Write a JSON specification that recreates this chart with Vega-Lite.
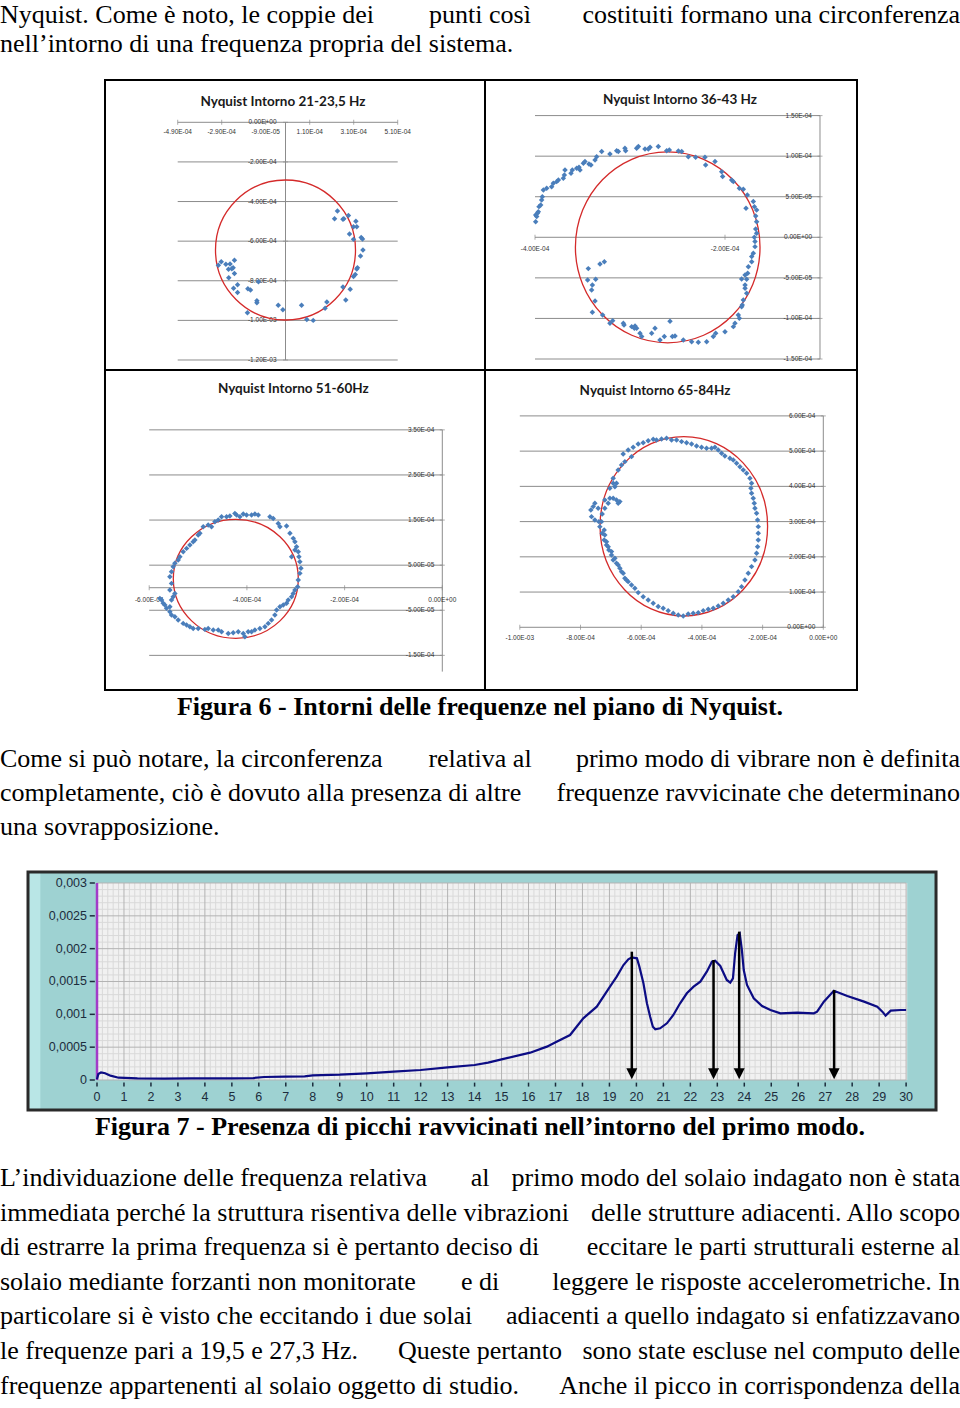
{
"$schema": "https://vega.github.io/schema/vega-lite/v6.json",
"padding": 0,
"background": "white",
"bounds": "flush",
"spacing": 0,
"config": {"axis": {"disable": true}, "view": {"stroke": null}, "concat": {"spacing": 0}},
"vconcat": [
{
 "width": 960, "height": 80,
 "data": {"values": [
  {"line": 1, "part": "a", "text": "Nyquist. Come è noto, le coppie dei"},
  {"line": 1, "part": "b", "text": "punti così"},
  {"line": 1, "part": "c", "text": "costituiti formano una circonferenza"},
  {"line": 2, "part": "a", "text": "nell’intorno di una frequenza propria del sistema."}
 ]},
 "encoding": {"y": {"field": "line", "type": "quantitative", "scale": {"domain": [0.1897, 2.9483], "reverse": true, "nice": false, "zero": false}}, "text": {"field": "text"}},
 "layer": [
  {"transform": [{"filter": "datum.part === 'a'"}], "mark": {"type": "text", "align": "left", "baseline": "alphabetic", "font": "Liberation Serif", "fontSize": 26, "color": "#000"}, "encoding": {"x": {"datum": 0, "type": "quantitative", "scale": {"domain": [0, 1], "nice": false, "zero": false}}}},
  {"transform": [{"filter": "datum.part === 'b'"}], "mark": {"type": "text", "align": "center", "baseline": "alphabetic", "font": "Liberation Serif", "fontSize": 26, "color": "#000"}, "encoding": {"x": {"datum": 0.5, "type": "quantitative"}}},
  {"transform": [{"filter": "datum.part === 'c'"}], "mark": {"type": "text", "align": "right", "baseline": "alphabetic", "font": "Liberation Serif", "fontSize": 26, "color": "#000"}, "encoding": {"x": {"datum": 1, "type": "quantitative"}}}
 ]
},
{
 "width": 960, "height": 290,
 "resolve": {"scale": {"x": "independent", "y": "independent"}},
 "layer": [
  {"layer": [
    {"data": {"values": [{"y": 0}, {"y": -0.0002}, {"y": -0.0004}, {"y": -0.0006}, {"y": -0.0008}, {"y": -0.001}, {"y": -0.0012}]},
     "mark": {"type": "rule", "color": "#8c8c8c", "strokeWidth": 1},
     "encoding": {"y": {"field": "y", "type": "quantitative", "scale": {"domain": [-0.0012505, 0.00021355], "nice": false, "zero": false}},
                  "x": {"datum": -0.00049, "type": "quantitative", "scale": {"domain": [-0.00129773, 0.00306591], "nice": false, "zero": false}},
                  "x2": {"datum": 0.00051}}},
    {"data": {"values": [{}]}, "mark": {"type": "rule", "color": "#8c8c8c", "strokeWidth": 1},
     "encoding": {"x": {"datum": 0, "type": "quantitative"}, "y": {"datum": 0, "type": "quantitative"}, "y2": {"datum": -0.0012}}},
    {"data": {"values": [{"x": -0.00049}, {"x": -0.00029}, {"x": -0.00009}, {"x": 0.00011}, {"x": 0.00031}, {"x": 0.00051}]},
     "mark": {"type": "tick", "orient": "vertical", "size": 5, "thickness": 1, "color": "#8c8c8c"},
     "encoding": {"x": {"field": "x", "type": "quantitative"}, "y": {"datum": 0, "type": "quantitative"}}},
    {"data": {"values": [{"y": 0}, {"y": -0.0002}, {"y": -0.0004}, {"y": -0.0006}, {"y": -0.0008}, {"y": -0.001}, {"y": -0.0012}]},
     "mark": {"type": "tick", "orient": "horizontal", "size": 5, "thickness": 1, "color": "#8c8c8c"},
     "encoding": {"y": {"field": "y", "type": "quantitative"}, "x": {"datum": 0, "type": "quantitative"}}},
    {"data": {"values": [{"x": -0.00049, "t": "-4.90E-04"}, {"x": -0.00029, "t": "-2.90E-04"}, {"x": -0.00009, "t": "-9.00E-05"}, {"x": 0.00011, "t": "1.10E-04"}, {"x": 0.00031, "t": "3.10E-04"}, {"x": 0.00051, "t": "5.10E-04"}]},
     "mark": {"type": "text", "font": "Liberation Sans", "fontSize": 6.5, "color": "#333", "baseline": "middle", "dy": 10},
     "encoding": {"x": {"field": "x", "type": "quantitative"}, "y": {"datum": 0, "type": "quantitative"}, "text": {"field": "t"}}},
    {"data": {"values": [{"y": 0, "t": "0.00E+00"}, {"y": -0.0002, "t": "-2.00E-04"}, {"y": -0.0004, "t": "-4.00E-04"}, {"y": -0.0006, "t": "-6.00E-04"}, {"y": -0.0008, "t": "-8.00E-04"}, {"y": -0.001, "t": "-1.00E-03"}, {"y": -0.0012, "t": "-1.20E-03"}]},
     "mark": {"type": "text", "font": "Liberation Sans", "fontSize": 6.5, "color": "#333", "baseline": "middle", "align": "right", "dx": -9},
     "encoding": {"y": {"field": "y", "type": "quantitative"}, "x": {"datum": 0, "type": "quantitative"}, "text": {"field": "t"}}},
    {"data": {"values": [{"x": 0, "y": -0.0006447}]},
     "mark": {"type": "point", "shape": "circle", "filled": false, "size": 19600, "color": "#d42a2a", "strokeWidth": 1.3, "opacity": 1},
     "encoding": {"x": {"field": "x", "type": "quantitative"}, "y": {"field": "y", "type": "quantitative"}}},
    {"data": {"values": [
      {"x": 2.36e-4, "y": -4.48e-4}, {"x": 2.23e-4, "y": -4.87e-4}, {"x": 2.61e-4, "y": -4.90e-4}, {"x": 2.65e-4, "y": -4.87e-4}, {"x": 2.86e-4, "y": -4.71e-4},
      {"x": 3.20e-4, "y": -5.00e-4}, {"x": 3.24e-4, "y": -5.27e-4}, {"x": 3.09e-4, "y": -5.27e-4}, {"x": 2.91e-4, "y": -5.64e-4}, {"x": 3.09e-4, "y": -5.91e-4},
      {"x": 3.44e-4, "y": -5.82e-4}, {"x": 3.50e-4, "y": -5.89e-4}, {"x": 3.52e-4, "y": -6.45e-4}, {"x": 3.41e-4, "y": -6.75e-4}, {"x": 3.27e-4, "y": -7.34e-4},
      {"x": 3.24e-4, "y": -7.41e-4}, {"x": 3.17e-4, "y": -7.68e-4}, {"x": 3.09e-4, "y": -7.79e-4}, {"x": 2.61e-4, "y": -8.32e-4}, {"x": 2.94e-4, "y": -8.43e-4},
      {"x": 2.74e-4, "y": -8.97e-4}, {"x": 1.88e-4, "y": -9.07e-4}, {"x": 1.80e-4, "y": -9.39e-4}, {"x": 0.73e-4, "y": -9.24e-4}, {"x": 0.97e-4, "y": -9.95e-4},
      {"x": 1.26e-4, "y": -10.0e-4}, {"x": -0.33e-4, "y": -9.24e-4}, {"x": -0.12e-4, "y": -9.46e-4}, {"x": -1.30e-4, "y": -9.01e-4}, {"x": -1.30e-4, "y": -9.11e-4},
      {"x": -1.71e-4, "y": -8.40e-4}, {"x": -1.59e-4, "y": -8.47e-4}, {"x": -1.73e-4, "y": -9.61e-4}, {"x": -2.18e-4, "y": -8.59e-4}, {"x": -2.18e-4, "y": -8.20e-4},
      {"x": -2.36e-4, "y": -8.38e-4}, {"x": -2.58e-4, "y": -7.85e-4}, {"x": -2.32e-4, "y": -7.63e-4}, {"x": -2.44e-4, "y": -7.39e-4}, {"x": -2.38e-4, "y": -7.34e-4},
      {"x": -2.59e-4, "y": -7.42e-4}, {"x": -2.52e-4, "y": -7.15e-4}, {"x": -2.32e-4, "y": -6.97e-4}, {"x": -2.71e-4, "y": -7.17e-4}, {"x": -2.92e-4, "y": -7.04e-4},
      {"x": -3.05e-4, "y": -7.22e-4}, {"x": -1.23e-4, "y": -8.05e-4}
     ]},
     "mark": {"type": "point", "shape": "diamond", "filled": true, "size": 30, "color": "#4a7ebb", "opacity": 1},
     "encoding": {"x": {"field": "x", "type": "quantitative"}, "y": {"field": "y", "type": "quantitative"}}},
    {"data": {"values": [{"t": "Nyquist Intorno 21-23,5 Hz"}]},
     "mark": {"type": "text", "font": "Lato", "fontWeight": "bold", "fontSize": 13.5, "color": "#1a1a1a", "align": "center", "baseline": "alphabetic"},
     "encoding": {"x": {"datum": -0.0000114, "type": "quantitative"}, "y": {"datum": 0.0000823, "type": "quantitative"}, "text": {"field": "t"}}},
    {"data": {"values": [{}]}, "mark": {"type": "rect", "filled": false, "color": "#000", "strokeWidth": 2},
     "encoding": {"x": {"datum": -0.00082045, "type": "quantitative"}, "x2": {"datum": 0.0009068}, "y": {"datum": -0.0012505, "type": "quantitative"}, "y2": {"datum": 0.00021355}}}
  ]},
  {"layer": [
    {"data": {"values": [{"y": 0.00015}, {"y": 0.0001}, {"y": 0.00005}, {"y": 0}, {"y": -0.00005}, {"y": -0.0001}, {"y": -0.00015}]},
     "mark": {"type": "rule", "color": "#8c8c8c", "strokeWidth": 1},
     "encoding": {"y": {"field": "y", "type": "quantitative", "scale": {"domain": [-0.00016355, 0.00019386], "nice": false, "zero": false}},
                  "x": {"datum": -0.0004, "type": "quantitative", "scale": {"domain": [-0.00096316, 0.00004737], "nice": false, "zero": false}},
                  "x2": {"datum": -0.0001}}},
    {"data": {"values": [{}]}, "mark": {"type": "rule", "color": "#8c8c8c", "strokeWidth": 1},
     "encoding": {"x": {"datum": -0.0001, "type": "quantitative"}, "y": {"datum": 0.00015, "type": "quantitative"}, "y2": {"datum": -0.00015}}},
    {"data": {"values": [{"x": -0.0004}, {"x": -0.0002}]},
     "mark": {"type": "tick", "orient": "vertical", "size": 5, "thickness": 1, "color": "#8c8c8c"},
     "encoding": {"x": {"field": "x", "type": "quantitative"}, "y": {"datum": 0, "type": "quantitative"}}},
    {"data": {"values": [{"y": 0.00015}, {"y": 0.0001}, {"y": 0.00005}, {"y": 0}, {"y": -0.00005}, {"y": -0.0001}, {"y": -0.00015}]},
     "mark": {"type": "tick", "orient": "horizontal", "size": 5, "thickness": 1, "color": "#8c8c8c"},
     "encoding": {"y": {"field": "y", "type": "quantitative"}, "x": {"datum": -0.0001, "type": "quantitative"}}},
    {"data": {"values": [{"x": -0.0004, "t": "-4.00E-04"}, {"x": -0.0002, "t": "-2.00E-04"}]},
     "mark": {"type": "text", "font": "Liberation Sans", "fontSize": 6.5, "color": "#333", "baseline": "middle", "dy": 12},
     "encoding": {"x": {"field": "x", "type": "quantitative"}, "y": {"datum": 0, "type": "quantitative"}, "text": {"field": "t"}}},
    {"data": {"values": [{"y": 0.00015, "t": "1.50E-04"}, {"y": 0.0001, "t": "1.00E-04"}, {"y": 0.00005, "t": "5.00E-05"}, {"y": 0, "t": "0.00E+00"}, {"y": -0.00005, "t": "-5.00E-05"}, {"y": -0.0001, "t": "-1.00E-04"}, {"y": -0.00015, "t": "-1.50E-04"}]},
     "mark": {"type": "text", "font": "Liberation Sans", "fontSize": 6.5, "color": "#333", "baseline": "middle", "align": "right", "dx": -8},
     "encoding": {"y": {"field": "y", "type": "quantitative"}, "x": {"datum": -0.0001, "type": "quantitative"}, "text": {"field": "t"}}},
    {"data": {"values": [{"x": -0.0002603, "y": -0.0000123}]},
     "mark": {"type": "point", "shape": "M -0.9665,0 A 0.9665,1 0 1,1 0.9665,0 A 0.9665,1 0 1,1 -0.9665,0 Z", "filled": false, "size": 36481, "color": "#d42a2a", "strokeWidth": 1.3, "opacity": 1},
     "encoding": {"x": {"field": "x", "type": "quantitative"}, "y": {"field": "y", "type": "quantitative"}}},
    {"data": {"values": [
      {"x": -3.993e-4, "y": 1.93e-5}, {"x": -3.982e-4, "y": 2.55e-5}, {"x": -3.975e-4, "y": 2.96e-5}, {"x": -3.965e-4, "y": 3.16e-5}, {"x": -3.993e-4, "y": 2.75e-5},
      {"x": -3.958e-4, "y": 3.78e-5}, {"x": -3.940e-4, "y": 3.99e-5}, {"x": -3.930e-4, "y": 4.60e-5}, {"x": -3.923e-4, "y": 5.01e-5}, {"x": -3.912e-4, "y": 5.83e-5},
      {"x": -3.877e-4, "y": 6.04e-5}, {"x": -3.825e-4, "y": 6.24e-5}, {"x": -3.807e-4, "y": 6.66e-5}, {"x": -3.772e-4, "y": 6.86e-5}, {"x": -3.754e-4, "y": 7.07e-5},
      {"x": -3.702e-4, "y": 7.27e-5}, {"x": -3.691e-4, "y": 7.68e-5}, {"x": -3.684e-4, "y": 8.30e-5}, {"x": -3.621e-4, "y": 7.89e-5}, {"x": -3.607e-4, "y": 8.30e-5},
      {"x": -3.561e-4, "y": 8.50e-5}, {"x": -3.537e-4, "y": 8.63e-5}, {"x": -3.526e-4, "y": 8.30e-5}, {"x": -3.491e-4, "y": 9.12e-5}, {"x": -3.474e-4, "y": 9.33e-5},
      {"x": -3.432e-4, "y": 9.04e-5}, {"x": -3.411e-4, "y": 8.92e-5}, {"x": -3.368e-4, "y": 9.53e-5}, {"x": -3.351e-4, "y": 9.94e-5}, {"x": -3.298e-4, "y": 10.56e-5},
      {"x": -3.211e-4, "y": 10.27e-5}, {"x": -3.140e-4, "y": 10.68e-5}, {"x": -3.123e-4, "y": 10.56e-5}, {"x": -3.053e-4, "y": 10.97e-5}, {"x": -3.046e-4, "y": 10.68e-5},
      {"x": -2.930e-4, "y": 10.97e-5}, {"x": -2.912e-4, "y": 11.18e-5}, {"x": -2.842e-4, "y": 10.89e-5}, {"x": -2.807e-4, "y": 10.89e-5}, {"x": -2.789e-4, "y": 11.09e-5},
      {"x": -2.702e-4, "y": 11.18e-5}, {"x": -2.614e-4, "y": 10.68e-5}, {"x": -2.586e-4, "y": 10.76e-5}, {"x": -2.491e-4, "y": 10.64e-5}, {"x": -2.456e-4, "y": 10.56e-5},
      {"x": -2.386e-4, "y": 9.94e-5}, {"x": -2.309e-4, "y": 9.86e-5}, {"x": -2.211e-4, "y": 9.86e-5}, {"x": -2.204e-4, "y": 8.92e-5}, {"x": -2.105e-4, "y": 9.33e-5},
      {"x": -2.035e-4, "y": 8.09e-5}, {"x": -2.025e-4, "y": 7.48e-5}, {"x": -1.930e-4, "y": 7.07e-5}, {"x": -1.912e-4, "y": 6.86e-5}, {"x": -1.849e-4, "y": 6.04e-5},
      {"x": -1.807e-4, "y": 5.92e-5}, {"x": -1.765e-4, "y": 5.22e-5}, {"x": -1.702e-4, "y": 4.40e-5}, {"x": -1.691e-4, "y": 3.78e-5}, {"x": -1.667e-4, "y": 3.37e-5},
      {"x": -1.779e-4, "y": 3.57e-5}, {"x": -1.677e-4, "y": 2.63e-5}, {"x": -1.667e-4, "y": 1.93e-5}, {"x": -1.677e-4, "y": 1.03e-5}, {"x": -1.667e-4, "y": 0.49e-5},
      {"x": -1.691e-4, "y": 0.0}, {"x": -1.684e-4, "y": -0.53e-5}, {"x": -1.684e-4, "y": -1.15e-5}, {"x": -1.702e-4, "y": -1.97e-5}, {"x": -1.719e-4, "y": -2.38e-5},
      {"x": -1.719e-4, "y": -3.00e-5}, {"x": -1.754e-4, "y": -3.62e-5}, {"x": -1.761e-4, "y": -4.44e-5}, {"x": -1.789e-4, "y": -4.64e-5}, {"x": -1.825e-4, "y": -5.14e-5},
      {"x": -1.772e-4, "y": -5.18e-5}, {"x": -1.789e-4, "y": -5.88e-5}, {"x": -1.789e-4, "y": -6.29e-5}, {"x": -1.772e-4, "y": -6.90e-5}, {"x": -1.807e-4, "y": -7.72e-5},
      {"x": -1.818e-4, "y": -8.34e-5}, {"x": -1.825e-4, "y": -8.55e-5}, {"x": -1.860e-4, "y": -9.57e-5}, {"x": -1.849e-4, "y": -9.98e-5}, {"x": -1.895e-4, "y": -10.60e-5},
      {"x": -1.912e-4, "y": -11.01e-5}, {"x": -2.000e-4, "y": -11.63e-5}, {"x": -2.098e-4, "y": -11.83e-5}, {"x": -2.123e-4, "y": -12.24e-5}, {"x": -2.193e-4, "y": -12.86e-5},
      {"x": -2.281e-4, "y": -12.94e-5}, {"x": -2.351e-4, "y": -12.86e-5}, {"x": -2.439e-4, "y": -12.65e-5}, {"x": -2.526e-4, "y": -12.16e-5}, {"x": -2.554e-4, "y": -12.24e-5},
      {"x": -2.639e-4, "y": -12.24e-5}, {"x": -2.684e-4, "y": -12.65e-5}, {"x": -2.737e-4, "y": -11.22e-5}, {"x": -2.772e-4, "y": -11.83e-5}, {"x": -2.877e-4, "y": -12.24e-5},
      {"x": -2.895e-4, "y": -11.83e-5}, {"x": -2.930e-4, "y": -11.22e-5}, {"x": -2.947e-4, "y": -10.93e-5}, {"x": -2.954e-4, "y": -11.22e-5}, {"x": -2.982e-4, "y": -11.01e-5},
      {"x": -3.063e-4, "y": -10.81e-5}, {"x": -3.070e-4, "y": -10.60e-5}, {"x": -3.182e-4, "y": -10.27e-5}, {"x": -3.211e-4, "y": -10.60e-5}, {"x": -3.288e-4, "y": -9.57e-5},
      {"x": -3.396e-4, "y": -9.24e-5}, {"x": -3.368e-4, "y": -7.85e-5}, {"x": -3.404e-4, "y": -6.49e-5}, {"x": -3.396e-4, "y": -5.88e-5}, {"x": -3.446e-4, "y": -5.26e-5},
      {"x": -3.361e-4, "y": -5.18e-5}, {"x": -3.439e-4, "y": -3.86e-5}, {"x": -3.316e-4, "y": -3.29e-5}, {"x": -3.270e-4, "y": -3.00e-5}, {"x": -2.579e-4, "y": -10.35e-5}
     ]},
     "mark": {"type": "point", "shape": "diamond", "filled": true, "size": 30, "color": "#4a7ebb", "opacity": 1},
     "encoding": {"x": {"field": "x", "type": "quantitative"}, "y": {"field": "y", "type": "quantitative"}}},
    {"data": {"values": [{"t": "Nyquist Intorno 36-43 Hz"}]},
     "mark": {"type": "text", "font": "Lato", "fontWeight": "bold", "fontSize": 13.5, "color": "#1a1a1a", "align": "center", "baseline": "alphabetic"},
     "encoding": {"x": {"datum": -0.0002474, "type": "quantitative"}, "y": {"datum": 0.0001643, "type": "quantitative"}, "text": {"field": "t"}}},
    {"data": {"values": [{}]}, "mark": {"type": "rect", "filled": false, "color": "#000", "strokeWidth": 2},
     "encoding": {"x": {"datum": -0.00045263, "type": "quantitative"}, "x2": {"datum": -0.00006105}, "y": {"datum": -0.00016355, "type": "quantitative"}, "y2": {"datum": 0.00019386}}}
  ]}
 ]
},
{
 "width": 960, "height": 320,
 "resolve": {"scale": {"x": "independent", "y": "independent"}},
 "layer": [
  {"layer": [
    {"data": {"values": [{"y": 0.00035}, {"y": 0.00025}, {"y": 0.00015}, {"y": 0.00005}, {"y": 0}, {"y": -0.00005}, {"y": -0.00015}]},
     "mark": {"type": "rule", "color": "#8c8c8c", "strokeWidth": 1},
     "encoding": {"y": {"field": "y", "type": "quantitative", "scale": {"domain": [-0.0002268, 0.0004827], "nice": false, "zero": false}},
                  "x": {"datum": -0.0006, "type": "quantitative", "scale": {"domain": [-0.00090542, 0.00105977], "nice": false, "zero": false}},
                  "x2": {"datum": 0}}},
    {"data": {"values": [{}]}, "mark": {"type": "rule", "color": "#8c8c8c", "strokeWidth": 1},
     "encoding": {"x": {"datum": 0, "type": "quantitative"}, "y": {"datum": 0.00035, "type": "quantitative"}, "y2": {"datum": -0.000186}}},
    {"data": {"values": [{"x": -0.0006}, {"x": -0.0004}, {"x": -0.0002}, {"x": 0}]},
     "mark": {"type": "tick", "orient": "vertical", "size": 5, "thickness": 1, "color": "#8c8c8c"},
     "encoding": {"x": {"field": "x", "type": "quantitative"}, "y": {"datum": 0, "type": "quantitative"}}},
    {"data": {"values": [{"y": 0.00035}, {"y": 0.00025}, {"y": 0.00015}, {"y": 0.00005}, {"y": -0.00005}, {"y": -0.00015}]},
     "mark": {"type": "tick", "orient": "horizontal", "size": 5, "thickness": 1, "color": "#8c8c8c"},
     "encoding": {"y": {"field": "y", "type": "quantitative"}, "x": {"datum": 0, "type": "quantitative"}}},
    {"data": {"values": [{"x": -0.0006, "t": "-6.00E-04"}, {"x": -0.0004, "t": "-4.00E-04"}, {"x": -0.0002, "t": "-2.00E-04"}, {"x": 0, "t": "0.00E+00"}]},
     "mark": {"type": "text", "font": "Liberation Sans", "fontSize": 6.5, "color": "#333", "baseline": "middle", "dy": 12},
     "encoding": {"x": {"field": "x", "type": "quantitative"}, "y": {"datum": 0, "type": "quantitative"}, "text": {"field": "t"}}},
    {"data": {"values": [{"y": 0.00035, "t": "3.50E-04"}, {"y": 0.00025, "t": "2.50E-04"}, {"y": 0.00015, "t": "1.50E-04"}, {"y": 0.00005, "t": "5.00E-05"}, {"y": -0.00005, "t": "-5.00E-05"}, {"y": -0.00015, "t": "-1.50E-04"}]},
     "mark": {"type": "text", "font": "Liberation Sans", "fontSize": 6.5, "color": "#333", "baseline": "middle", "align": "right", "dx": -8},
     "encoding": {"y": {"field": "y", "type": "quantitative"}, "x": {"datum": 0, "type": "quantitative"}, "text": {"field": "t"}}},
    {"data": {"values": [{"x": -0.0004227, "y": 0.0000197}]},
     "mark": {"type": "point", "shape": "M -1,0 A 1,0.952 0 1,1 1,0 A 1,0.952 0 1,1 -1,0 Z", "filled": false, "size": 15625, "color": "#d42a2a", "strokeWidth": 1.3, "opacity": 1},
     "encoding": {"x": {"field": "x", "type": "quantitative"}, "y": {"field": "y", "type": "quantitative"}}},
    {"data": {"values": [
      {"x": -4.519e-4, "y": 1.574e-4}, {"x": -4.416e-4, "y": 1.574e-4}, {"x": -4.348e-4, "y": 1.589e-4}, {"x": -4.246e-4, "y": 1.648e-4}, {"x": -4.212e-4, "y": 1.611e-4},
      {"x": -4.143e-4, "y": 1.574e-4}, {"x": -4.075e-4, "y": 1.633e-4}, {"x": -4.007e-4, "y": 1.611e-4}, {"x": -3.904e-4, "y": 1.611e-4}, {"x": -3.836e-4, "y": 1.633e-4},
      {"x": -3.768e-4, "y": 1.611e-4}, {"x": -3.529e-4, "y": 1.574e-4}, {"x": -3.461e-4, "y": 1.537e-4}, {"x": -3.358e-4, "y": 1.426e-4}, {"x": -3.324e-4, "y": 1.353e-4},
      {"x": -3.188e-4, "y": 1.367e-4}, {"x": -3.119e-4, "y": 1.205e-4}, {"x": -3.051e-4, "y": 1.094e-4}, {"x": -3.017e-4, "y": 1.020e-4}, {"x": -2.983e-4, "y": 0.909e-4},
      {"x": -2.949e-4, "y": 0.798e-4}, {"x": -2.935e-4, "y": 0.687e-4}, {"x": -2.915e-4, "y": 0.576e-4}, {"x": -2.894e-4, "y": 0.429e-4}, {"x": -2.915e-4, "y": 0.318e-4},
      {"x": -2.949e-4, "y": 0.170e-4}, {"x": -2.962e-4, "y": 0.022e-4}, {"x": -3.017e-4, "y": -0.052e-4}, {"x": -3.051e-4, "y": -0.126e-4}, {"x": -3.085e-4, "y": -0.200e-4},
      {"x": -3.154e-4, "y": -0.273e-4}, {"x": -3.188e-4, "y": -0.347e-4}, {"x": -3.256e-4, "y": -0.384e-4}, {"x": -3.324e-4, "y": -0.421e-4}, {"x": -3.392e-4, "y": -0.495e-4},
      {"x": -3.427e-4, "y": -0.606e-4}, {"x": -3.495e-4, "y": -0.717e-4}, {"x": -3.563e-4, "y": -0.791e-4}, {"x": -3.631e-4, "y": -0.865e-4}, {"x": -3.734e-4, "y": -0.902e-4},
      {"x": -3.836e-4, "y": -0.939e-4}, {"x": -3.904e-4, "y": -0.976e-4}, {"x": -3.973e-4, "y": -0.976e-4}, {"x": -4.041e-4, "y": -1.086e-4}, {"x": -4.075e-4, "y": -1.013e-4},
      {"x": -4.177e-4, "y": -0.976e-4}, {"x": -4.280e-4, "y": -0.998e-4}, {"x": -4.382e-4, "y": -1.013e-4}, {"x": -4.519e-4, "y": -0.976e-4}, {"x": -4.587e-4, "y": -0.939e-4},
      {"x": -4.689e-4, "y": -0.939e-4}, {"x": -4.792e-4, "y": -0.902e-4}, {"x": -4.860e-4, "y": -0.924e-4}, {"x": -4.997e-4, "y": -0.902e-4}, {"x": -5.099e-4, "y": -0.902e-4},
      {"x": -5.167e-4, "y": -0.865e-4}, {"x": -5.235e-4, "y": -0.828e-4}, {"x": -5.304e-4, "y": -0.791e-4}, {"x": -5.406e-4, "y": -0.717e-4}, {"x": -5.474e-4, "y": -0.643e-4},
      {"x": -5.543e-4, "y": -0.606e-4}, {"x": -5.577e-4, "y": -0.532e-4}, {"x": -5.645e-4, "y": -0.458e-4}, {"x": -5.679e-4, "y": -0.384e-4}, {"x": -5.713e-4, "y": -0.347e-4},
      {"x": -5.747e-4, "y": -0.273e-4}, {"x": -5.782e-4, "y": -0.237e-4}, {"x": -5.577e-4, "y": -0.421e-4}, {"x": -5.543e-4, "y": -0.273e-4}, {"x": -5.509e-4, "y": -0.200e-4},
      {"x": -5.474e-4, "y": -0.126e-4}, {"x": -5.577e-4, "y": -0.052e-4}, {"x": -5.543e-4, "y": 0.096e-4}, {"x": -5.577e-4, "y": 0.244e-4}, {"x": -5.543e-4, "y": 0.355e-4},
      {"x": -5.509e-4, "y": 0.466e-4}, {"x": -5.474e-4, "y": 0.540e-4}, {"x": -5.406e-4, "y": 0.613e-4}, {"x": -5.372e-4, "y": 0.687e-4}, {"x": -5.304e-4, "y": 0.798e-4},
      {"x": -5.235e-4, "y": 0.872e-4}, {"x": -5.167e-4, "y": 0.946e-4}, {"x": -5.099e-4, "y": 1.020e-4}, {"x": -5.065e-4, "y": 1.057e-4}, {"x": -4.997e-4, "y": 1.168e-4},
      {"x": -4.962e-4, "y": 1.205e-4}, {"x": -4.894e-4, "y": 1.353e-4}, {"x": -4.792e-4, "y": 1.390e-4}, {"x": -4.724e-4, "y": 1.353e-4}, {"x": -4.655e-4, "y": 1.463e-4},
      {"x": -4.587e-4, "y": 1.500e-4}, {"x": -3.085e-4, "y": 0.687e-4}, {"x": -3.017e-4, "y": 0.835e-4}
     ]},
     "mark": {"type": "point", "shape": "diamond", "filled": true, "size": 30, "color": "#4a7ebb", "opacity": 1},
     "encoding": {"x": {"field": "x", "type": "quantitative"}, "y": {"field": "y", "type": "quantitative"}}},
    {"data": {"values": [{"t": "Nyquist Intorno 51-60Hz"}]},
     "mark": {"type": "text", "font": "Lato", "fontWeight": "bold", "fontSize": 13.5, "color": "#1a1a1a", "align": "center", "baseline": "alphabetic"},
     "encoding": {"x": {"datum": -0.000305, "type": "quantitative"}, "y": {"datum": 0.000431, "type": "quantitative"}, "text": {"field": "t"}}},
    {"data": {"values": [{}]}, "mark": {"type": "rect", "filled": false, "color": "#000", "strokeWidth": 2},
     "encoding": {"x": {"datum": -0.0006905, "type": "quantitative"}, "x2": {"datum": 0.0000874}, "y": {"datum": -0.0002268, "type": "quantitative"}, "y2": {"datum": 0.0004827}}}
  ]},
  {"layer": [
    {"data": {"values": [{"y": 0.0006}, {"y": 0.0005}, {"y": 0.0004}, {"y": 0.0003}, {"y": 0.0002}, {"y": 0.0001}, {"y": 0}]},
     "mark": {"type": "rule", "color": "#8c8c8c", "strokeWidth": 1},
     "encoding": {"y": {"field": "y", "type": "quantitative", "scale": {"domain": [-0.000178, 0.0007303], "nice": false, "zero": false}},
                  "x": {"datum": -0.001, "type": "quantitative", "scale": {"domain": [-0.00271269, 0.00045041], "nice": false, "zero": false}},
                  "x2": {"datum": 0}}},
    {"data": {"values": [{}]}, "mark": {"type": "rule", "color": "#8c8c8c", "strokeWidth": 1},
     "encoding": {"x": {"datum": 0, "type": "quantitative"}, "y": {"datum": 0.0006, "type": "quantitative"}, "y2": {"datum": 0}}},
    {"data": {"values": [{"x": -0.001}, {"x": -0.0008}, {"x": -0.0006}, {"x": -0.0004}, {"x": -0.0002}, {"x": 0}]},
     "mark": {"type": "tick", "orient": "vertical", "size": 5, "thickness": 1, "color": "#8c8c8c"},
     "encoding": {"x": {"field": "x", "type": "quantitative"}, "y": {"datum": 0, "type": "quantitative"}}},
    {"data": {"values": [{"y": 0.0006}, {"y": 0.0005}, {"y": 0.0004}, {"y": 0.0003}, {"y": 0.0002}, {"y": 0.0001}, {"y": 0}]},
     "mark": {"type": "tick", "orient": "horizontal", "size": 5, "thickness": 1, "color": "#8c8c8c"},
     "encoding": {"y": {"field": "y", "type": "quantitative"}, "x": {"datum": 0, "type": "quantitative"}}},
    {"data": {"values": [{"x": -0.001, "t": "-1.00E-03"}, {"x": -0.0008, "t": "-8.00E-04"}, {"x": -0.0006, "t": "-6.00E-04"}, {"x": -0.0004, "t": "-4.00E-04"}, {"x": -0.0002, "t": "-2.00E-04"}, {"x": 0, "t": "0.00E+00"}]},
     "mark": {"type": "text", "font": "Liberation Sans", "fontSize": 6.5, "color": "#333", "baseline": "middle", "dy": 11},
     "encoding": {"x": {"field": "x", "type": "quantitative"}, "y": {"datum": 0, "type": "quantitative"}, "text": {"field": "t"}}},
    {"data": {"values": [{"y": 0.0006, "t": "6.00E-04"}, {"y": 0.0005, "t": "5.00E-04"}, {"y": 0.0004, "t": "4.00E-04"}, {"y": 0.0003, "t": "3.00E-04"}, {"y": 0.0002, "t": "2.00E-04"}, {"y": 0.0001, "t": "1.00E-04"}, {"y": 0, "t": "0.00E+00"}]},
     "mark": {"type": "text", "font": "Liberation Sans", "fontSize": 6.5, "color": "#333", "baseline": "middle", "align": "right", "dx": -8},
     "encoding": {"y": {"field": "y", "type": "quantitative"}, "x": {"datum": 0, "type": "quantitative"}, "text": {"field": "t"}}},
    {"data": {"values": [{"x": -0.0004596, "y": 0.0002867}]},
     "mark": {"type": "point", "shape": "M -0.934,0 A 0.934,1 0 1,1 0.934,0 A 0.934,1 0 1,1 -0.934,0 Z", "filled": false, "size": 32184, "color": "#d42a2a", "strokeWidth": 1.3, "opacity": 1},
     "encoding": {"x": {"field": "x", "type": "quantitative"}, "y": {"field": "y", "type": "quantitative"}}},
    {"data": {"values": [
      {"x": -6.593e-4, "y": 4.920e-4}, {"x": -6.429e-4, "y": 5.033e-4}, {"x": -6.264e-4, "y": 5.109e-4}, {"x": -6.099e-4, "y": 5.203e-4}, {"x": -5.934e-4, "y": 5.241e-4},
      {"x": -5.769e-4, "y": 5.298e-4}, {"x": -5.604e-4, "y": 5.336e-4}, {"x": -5.495e-4, "y": 5.317e-4}, {"x": -5.330e-4, "y": 5.345e-4}, {"x": -5.165e-4, "y": 5.364e-4},
      {"x": -5.000e-4, "y": 5.317e-4}, {"x": -4.835e-4, "y": 5.317e-4}, {"x": -4.670e-4, "y": 5.270e-4}, {"x": -4.505e-4, "y": 5.241e-4}, {"x": -4.341e-4, "y": 5.203e-4},
      {"x": -4.176e-4, "y": 5.147e-4}, {"x": -4.011e-4, "y": 5.109e-4}, {"x": -3.846e-4, "y": 5.080e-4}, {"x": -3.681e-4, "y": 5.080e-4}, {"x": -3.571e-4, "y": 5.109e-4},
      {"x": -3.462e-4, "y": 5.033e-4}, {"x": -3.352e-4, "y": 4.939e-4}, {"x": -3.242e-4, "y": 4.863e-4}, {"x": -3.077e-4, "y": 4.797e-4}, {"x": -2.967e-4, "y": 4.749e-4},
      {"x": -2.857e-4, "y": 4.655e-4}, {"x": -2.747e-4, "y": 4.560e-4}, {"x": -2.637e-4, "y": 4.465e-4}, {"x": -2.527e-4, "y": 4.371e-4}, {"x": -2.418e-4, "y": 4.229e-4},
      {"x": -2.363e-4, "y": 4.087e-4}, {"x": -2.385e-4, "y": 3.945e-4}, {"x": -2.363e-4, "y": 3.803e-4}, {"x": -2.308e-4, "y": 3.661e-4}, {"x": -2.275e-4, "y": 3.519e-4},
      {"x": -2.253e-4, "y": 3.378e-4}, {"x": -2.198e-4, "y": 3.236e-4}, {"x": -2.165e-4, "y": 3.046e-4}, {"x": -2.143e-4, "y": 2.857e-4}, {"x": -2.143e-4, "y": 2.668e-4},
      {"x": -2.143e-4, "y": 2.479e-4}, {"x": -2.165e-4, "y": 2.289e-4}, {"x": -2.198e-4, "y": 2.100e-4}, {"x": -2.253e-4, "y": 1.911e-4}, {"x": -2.363e-4, "y": 1.722e-4},
      {"x": -2.473e-4, "y": 1.533e-4}, {"x": -2.582e-4, "y": 1.343e-4}, {"x": -2.692e-4, "y": 1.154e-4}, {"x": -2.802e-4, "y": 1.012e-4}, {"x": -2.967e-4, "y": 0.870e-4},
      {"x": -3.132e-4, "y": 0.776e-4}, {"x": -3.297e-4, "y": 0.681e-4}, {"x": -3.462e-4, "y": 0.605e-4}, {"x": -3.626e-4, "y": 0.539e-4}, {"x": -3.791e-4, "y": 0.511e-4},
      {"x": -3.956e-4, "y": 0.473e-4}, {"x": -4.121e-4, "y": 0.416e-4}, {"x": -4.286e-4, "y": 0.397e-4}, {"x": -4.451e-4, "y": 0.378e-4}, {"x": -4.615e-4, "y": 0.322e-4},
      {"x": -4.780e-4, "y": 0.350e-4}, {"x": -4.945e-4, "y": 0.397e-4}, {"x": -5.110e-4, "y": 0.473e-4}, {"x": -5.275e-4, "y": 0.539e-4}, {"x": -5.440e-4, "y": 0.587e-4},
      {"x": -5.604e-4, "y": 0.681e-4}, {"x": -5.769e-4, "y": 0.776e-4}, {"x": -5.934e-4, "y": 0.870e-4}, {"x": -6.099e-4, "y": 0.984e-4}, {"x": -6.209e-4, "y": 1.107e-4},
      {"x": -6.319e-4, "y": 1.202e-4}, {"x": -6.429e-4, "y": 1.296e-4}, {"x": -6.538e-4, "y": 1.391e-4}, {"x": -6.648e-4, "y": 1.580e-4}, {"x": -6.703e-4, "y": 1.675e-4},
      {"x": -6.813e-4, "y": 1.816e-4}, {"x": -6.923e-4, "y": 1.911e-4}, {"x": -6.978e-4, "y": 2.053e-4}, {"x": -7.066e-4, "y": 2.195e-4}, {"x": -7.143e-4, "y": 2.337e-4},
      {"x": -7.220e-4, "y": 2.479e-4}, {"x": -7.286e-4, "y": 2.668e-4}, {"x": -7.363e-4, "y": 2.857e-4}, {"x": -7.396e-4, "y": 2.999e-4}, {"x": -7.527e-4, "y": 3.046e-4},
      {"x": -7.637e-4, "y": 3.141e-4}, {"x": -7.659e-4, "y": 3.330e-4}, {"x": -7.582e-4, "y": 3.425e-4}, {"x": -7.527e-4, "y": 3.519e-4}, {"x": -7.418e-4, "y": 3.378e-4},
      {"x": -7.286e-4, "y": 3.217e-4}, {"x": -7.198e-4, "y": 3.378e-4}, {"x": -7.088e-4, "y": 3.519e-4}, {"x": -7.033e-4, "y": 3.661e-4}, {"x": -6.923e-4, "y": 3.661e-4},
      {"x": -6.813e-4, "y": 3.614e-4}, {"x": -6.758e-4, "y": 3.519e-4}, {"x": -6.703e-4, "y": 3.567e-4}, {"x": -6.868e-4, "y": 3.992e-4}, {"x": -6.813e-4, "y": 4.087e-4},
      {"x": -6.923e-4, "y": 4.229e-4}, {"x": -6.758e-4, "y": 4.465e-4}, {"x": -6.648e-4, "y": 4.607e-4}, {"x": -6.538e-4, "y": 4.702e-4}, {"x": -6.319e-4, "y": 4.844e-4},
      {"x": -6.923e-4, "y": 4.087e-4}, {"x": -7.033e-4, "y": 3.945e-4}, {"x": -7.198e-4, "y": 3.614e-4}, {"x": -7.308e-4, "y": 2.999e-4}, {"x": -7.220e-4, "y": 2.763e-4},
      {"x": -7.198e-4, "y": 2.621e-4}, {"x": -7.143e-4, "y": 2.431e-4}, {"x": -7.088e-4, "y": 2.289e-4}, {"x": -6.978e-4, "y": 2.148e-4}, {"x": -6.868e-4, "y": 1.958e-4},
      {"x": -6.758e-4, "y": 1.769e-4}, {"x": -6.593e-4, "y": 1.533e-4}, {"x": -6.484e-4, "y": 1.343e-4}
     ]},
     "mark": {"type": "point", "shape": "diamond", "filled": true, "size": 30, "color": "#4a7ebb", "opacity": 1},
     "encoding": {"x": {"field": "x", "type": "quantitative"}, "y": {"field": "y", "type": "quantitative"}}},
    {"data": {"values": [{"t": "Nyquist Intorno 65-84Hz"}]},
     "mark": {"type": "text", "font": "Lato", "fontWeight": "bold", "fontSize": 13.5, "color": "#1a1a1a", "align": "center", "baseline": "alphabetic"},
     "encoding": {"x": {"datum": -0.0005545, "type": "quantitative"}, "y": {"datum": 0.0006594, "type": "quantitative"}, "text": {"field": "t"}}},
    {"data": {"values": [{}]}, "mark": {"type": "rect", "filled": false, "color": "#000", "strokeWidth": 2},
     "encoding": {"x": {"datum": -0.0011147, "type": "quantitative"}, "x2": {"datum": 0.000111}, "y": {"datum": -0.000178, "type": "quantitative"}, "y2": {"datum": 0.0007303}}}
  ]}
 ]
},
{
 "width": 960, "height": 50,
 "data": {"values": [{"text": "Figura 6 - Intorni delle frequenze nel piano di Nyquist."}]},
 "mark": {"type": "text", "align": "center", "baseline": "alphabetic", "font": "Liberation Serif", "fontWeight": "bold", "fontSize": 26, "color": "#000"},
 "encoding": {"x": {"datum": 0.5, "type": "quantitative", "scale": {"domain": [0, 1]}}, "y": {"datum": 0.5, "type": "quantitative", "scale": {"domain": [0, 1]}}, "text": {"field": "text"}}
},
{
 "width": 960, "height": 132,
 "data": {"values": [
  {"line": 1, "part": "a", "text": "Come si può notare, la circonferenza"},
  {"line": 1, "part": "b", "text": "relativa al"},
  {"line": 1, "part": "c", "text": "primo modo di vibrare non è definita"},
  {"line": 2, "part": "a", "text": "completamente, ciò è dovuto alla presenza di altre"},
  {"line": 2, "part": "c", "text": "frequenze ravvicinate che determinano"},
  {"line": 3, "part": "a", "text": "una sovrapposizione."}
 ]},
 "encoding": {"y": {"field": "line", "type": "quantitative", "scale": {"domain": [0.2059, 4.0882], "reverse": true, "nice": false, "zero": false}}, "text": {"field": "text"}},
 "layer": [
  {"transform": [{"filter": "datum.part === 'a'"}], "mark": {"type": "text", "align": "left", "baseline": "alphabetic", "font": "Liberation Serif", "fontSize": 26, "color": "#000"}, "encoding": {"x": {"datum": 0, "type": "quantitative", "scale": {"domain": [0, 1], "nice": false, "zero": false}}}},
  {"transform": [{"filter": "datum.part === 'b'"}], "mark": {"type": "text", "align": "center", "baseline": "alphabetic", "font": "Liberation Serif", "fontSize": 26, "color": "#000"}, "encoding": {"x": {"datum": 0.5, "type": "quantitative"}}},
  {"transform": [{"filter": "datum.part === 'c'"}], "mark": {"type": "text", "align": "right", "baseline": "alphabetic", "font": "Liberation Serif", "fontSize": 26, "color": "#000"}, "encoding": {"x": {"datum": 1, "type": "quantitative"}}}
 ]
},
{
 "width": 960, "height": 238,
 "layer": [
    {"data": {"values": [{}]}, "mark": {"type": "rect", "color": "#9ed2d2"},
     "encoding": {"x": {"datum": -2.558, "type": "quantitative", "scale": {"domain": [-3.5966, 31.998], "nice": false, "zero": false}}, "x2": {"datum": 31.109},
                  "y": {"datum": -0.0004569, "type": "quantitative", "scale": {"domain": [-0.0004569, 0.0031675], "nice": false, "zero": false}}, "y2": {"datum": 0.0031675}}},
    {"data": {"values": [{}]}, "mark": {"type": "rect", "color": "#b9e6e6"},
     "encoding": {"x": {"datum": -2.558, "type": "quantitative"}, "x2": {"datum": -2.1}, "y": {"datum": -0.0004569, "type": "quantitative"}, "y2": {"datum": 0.0031675}}},
    {"data": {"values": [{}]}, "mark": {"type": "rect", "color": "#f1f1f1"},
     "encoding": {"x": {"datum": 0, "type": "quantitative"}, "x2": {"datum": 30.04}, "y": {"datum": 0, "type": "quantitative"}, "y2": {"datum": 0.003}}},
    {"data": {"values": [0.2,0.4,0.6,0.8,1.2,1.4,1.6,1.8,2.2,2.4,2.6,2.8,3.2,3.4,3.6,3.8,4.2,4.4,4.6,4.8,5.2,5.4,5.6,5.8,6.2,6.4,6.6,6.8,7.2,7.4,7.6,7.8,8.2,8.4,8.6,8.8,9.2,9.4,9.6,9.8,10.2,10.4,10.6,10.8,11.2,11.4,11.6,11.8,12.2,12.4,12.6,12.8,13.2,13.4,13.6,13.8,14.2,14.4,14.6,14.8,15.2,15.4,15.6,15.8,16.2,16.4,16.6,16.8,17.2,17.4,17.6,17.8,18.2,18.4,18.6,18.8,19.2,19.4,19.6,19.8,20.2,20.4,20.6,20.8,21.2,21.4,21.6,21.8,22.2,22.4,22.6,22.8,23.2,23.4,23.6,23.8,24.2,24.4,24.6,24.8,25.2,25.4,25.6,25.8,26.2,26.4,26.6,26.8,27.2,27.4,27.6,27.8,28.2,28.4,28.6,28.8,29.2,29.4,29.6,29.8]},
     "mark": {"type": "rule", "color": "#d9d9d9", "strokeWidth": 1},
     "encoding": {"x": {"field": "data", "type": "quantitative"}, "y": {"datum": 0, "type": "quantitative"}, "y2": {"datum": 0.003}}},
    {"data": {"values": [0.0001,0.0002,0.0003,0.0004,0.0006,0.0007,0.0008,0.0009,0.0011,0.0012,0.0013,0.0014,0.0016,0.0017,0.0018,0.0019,0.0021,0.0022,0.0023,0.0024,0.0026,0.0027,0.0028,0.0029]},
     "mark": {"type": "rule", "color": "#d9d9d9", "strokeWidth": 1},
     "encoding": {"y": {"field": "data", "type": "quantitative"}, "x": {"datum": 0, "type": "quantitative"}, "x2": {"datum": 30}}},
    {"data": {"values": [0,1,2,3,4,5,6,7,8,9,10,11,12,13,14,15,16,17,18,19,20,21,22,23,24,25,26,27,28,29,30]},
     "mark": {"type": "rule", "color": "#b3b3b3", "strokeWidth": 1},
     "encoding": {"x": {"field": "data", "type": "quantitative"}, "y": {"datum": 0, "type": "quantitative"}, "y2": {"datum": 0.003}}},
    {"data": {"values": [0,0.0005,0.001,0.0015,0.002,0.0025,0.003]},
     "mark": {"type": "rule", "color": "#b3b3b3", "strokeWidth": 1},
     "encoding": {"y": {"field": "data", "type": "quantitative"}, "x": {"datum": 0, "type": "quantitative"}, "x2": {"datum": 30}}},
    {"data": {"values": [0,1,2,3,4,5,6,7,8,9,10,11,12,13,14,15,16,17,18,19,20,21,22,23,24,25,26,27,28,29,30]},
     "mark": {"type": "rule", "color": "#1c2c3c", "strokeWidth": 1.5},
     "encoding": {"x": {"field": "data", "type": "quantitative"}, "y": {"datum": -0.00004, "type": "quantitative"}, "y2": {"datum": -0.0001}}},
    {"data": {"values": [0,1,2,3,4,5,6,7,8,9,10,11,12,13,14,15,16,17,18,19,20,21,22,23,24,25,26,27,28,29,30]},
     "mark": {"type": "text", "font": "Liberation Sans", "fontSize": 12.5, "color": "#1c2c3c", "baseline": "middle", "dy": 17},
     "encoding": {"x": {"field": "data", "type": "quantitative"}, "y": {"datum": 0, "type": "quantitative"}, "text": {"field": "data", "type": "nominal"}}},
    {"data": {"values": [0,0.0005,0.001,0.0015,0.002,0.0025,0.003]},
     "mark": {"type": "rule", "color": "#1c2c3c", "strokeWidth": 1.5},
     "encoding": {"y": {"field": "data", "type": "quantitative"}, "x": {"datum": -0.27, "type": "quantitative"}, "x2": {"datum": -0.08}}},
    {"data": {"values": [{"v": 0.003, "t": "0,003"}, {"v": 0.0025, "t": "0,0025"}, {"v": 0.002, "t": "0,002"}, {"v": 0.0015, "t": "0,0015"}, {"v": 0.001, "t": "0,001"}, {"v": 0.0005, "t": "0,0005"}, {"v": 0, "t": "0"}]},
     "mark": {"type": "text", "font": "Liberation Sans", "fontSize": 12.5, "color": "#1c2c3c", "baseline": "middle", "align": "right", "dx": -10},
     "encoding": {"y": {"field": "v", "type": "quantitative"}, "x": {"datum": 0, "type": "quantitative"}, "text": {"field": "t"}}},
    {"data": {"values": [{}]}, "mark": {"type": "rule", "color": "#a23cc8", "strokeWidth": 2.5},
     "encoding": {"x": {"datum": 0, "type": "quantitative"}, "y": {"datum": 0, "type": "quantitative"}, "y2": {"datum": 0.003}}},
    {"data": {"values": [
      {"f": 0, "a": 1.0e-5}, {"f": 0.05, "a": 9.1e-5}, {"f": 0.15, "a": 1.17e-4}, {"f": 0.3, "a": 1.02e-4}, {"f": 0.5, "a": 6.6e-5}, {"f": 0.8, "a": 3.5e-5},
      {"f": 1.5, "a": 2.5e-5}, {"f": 2.5, "a": 2.0e-5}, {"f": 3.5, "a": 2.5e-5}, {"f": 5, "a": 2.5e-5}, {"f": 5.8, "a": 3.0e-5}, {"f": 6.2, "a": 4.6e-5},
      {"f": 7, "a": 5.1e-5}, {"f": 7.7, "a": 5.6e-5}, {"f": 8, "a": 7.1e-5}, {"f": 9, "a": 8.1e-5}, {"f": 10, "a": 1.02e-4}, {"f": 11, "a": 1.27e-4},
      {"f": 12, "a": 1.52e-4}, {"f": 13, "a": 1.93e-4}, {"f": 14, "a": 2.28e-4}, {"f": 14.5, "a": 2.64e-4}, {"f": 15, "a": 3.15e-4}, {"f": 16.06, "a": 4.16e-4},
      {"f": 16.68, "a": 5.08e-4}, {"f": 17.04, "a": 5.84e-4}, {"f": 17.54, "a": 6.85e-4}, {"f": 18.03, "a": 9.39e-4}, {"f": 18.53, "a": 1.117e-3}, {"f": 19.02, "a": 1.421e-3},
      {"f": 19.27, "a": 1.574e-3}, {"f": 19.52, "a": 1.751e-3}, {"f": 19.70, "a": 1.838e-3}, {"f": 19.83, "a": 1.868e-3}, {"f": 20.02, "a": 1.853e-3}, {"f": 20.11, "a": 1.726e-3},
      {"f": 20.26, "a": 1.472e-3}, {"f": 20.39, "a": 1.168e-3}, {"f": 20.51, "a": 9.64e-4}, {"f": 20.61, "a": 8.12e-4}, {"f": 20.70, "a": 7.72e-4}, {"f": 20.88, "a": 7.87e-4},
      {"f": 21.13, "a": 8.63e-4}, {"f": 21.37, "a": 9.90e-4}, {"f": 21.62, "a": 1.168e-3}, {"f": 21.87, "a": 1.320e-3}, {"f": 22.12, "a": 1.421e-3}, {"f": 22.37, "a": 1.497e-3},
      {"f": 22.61, "a": 1.650e-3}, {"f": 22.80, "a": 1.802e-3}, {"f": 22.92, "a": 1.817e-3}, {"f": 23.11, "a": 1.736e-3}, {"f": 23.35, "a": 1.523e-3}, {"f": 23.48, "a": 1.482e-3},
      {"f": 23.58, "a": 1.548e-3}, {"f": 23.66, "a": 1.929e-3}, {"f": 23.75, "a": 2.208e-3}, {"f": 23.83, "a": 2.234e-3}, {"f": 23.91, "a": 1.980e-3}, {"f": 23.98, "a": 1.675e-3},
      {"f": 24.10, "a": 1.447e-3}, {"f": 24.35, "a": 1.244e-3}, {"f": 24.66, "a": 1.127e-3}, {"f": 24.97, "a": 1.066e-3}, {"f": 25.34, "a": 1.015e-3}, {"f": 25.96, "a": 1.025e-3},
      {"f": 26.58, "a": 1.015e-3}, {"f": 26.70, "a": 1.041e-3}, {"f": 26.95, "a": 1.193e-3}, {"f": 27.32, "a": 1.360e-3}, {"f": 27.82, "a": 1.279e-3}, {"f": 28.44, "a": 1.193e-3},
      {"f": 28.93, "a": 1.117e-3}, {"f": 29.12, "a": 1.041e-3}, {"f": 29.24, "a": 9.80e-4}, {"f": 29.43, "a": 1.056e-3}, {"f": 29.80, "a": 1.066e-3}, {"f": 30.0, "a": 1.066e-3}
     ]},
     "mark": {"type": "line", "color": "#0c0c84", "strokeWidth": 2.2},
     "encoding": {"x": {"field": "f", "type": "quantitative"}, "y": {"field": "a", "type": "quantitative"}}},
    {"data": {"values": [{"f": 19.83, "top": 1.954e-3}, {"f": 22.86, "top": 1.827e-3}, {"f": 23.81, "top": 2.259e-3}, {"f": 27.33, "top": 1.371e-3}]},
     "mark": {"type": "rule", "color": "#000", "strokeWidth": 2.5},
     "encoding": {"x": {"field": "f", "type": "quantitative"}, "y": {"field": "top", "type": "quantitative"}, "y2": {"datum": 0.00016}}},
    {"data": {"values": [{"f": 19.83}, {"f": 22.86}, {"f": 23.81}, {"f": 27.33}]},
     "mark": {"type": "point", "shape": "M -1,-2 L 1,-2 L 0,0 Z", "filled": true, "size": 121, "color": "#000", "opacity": 1},
     "encoding": {"x": {"field": "f", "type": "quantitative"}, "y": {"datum": 0.00001, "type": "quantitative"}}},
    {"data": {"values": [{}]}, "mark": {"type": "rect", "filled": false, "color": "#2a2a2a", "strokeWidth": 3},
     "encoding": {"x": {"datum": -2.558, "type": "quantitative"}, "x2": {"datum": 31.109}, "y": {"datum": -0.0004569, "type": "quantitative"}, "y2": {"datum": 0.0031675}}}
 ]
},
{
 "width": 960, "height": 50,
 "data": {"values": [{"text": "Figura 7 - Presenza di picchi ravvicinati nell’intorno del primo modo."}]},
 "mark": {"type": "text", "align": "center", "baseline": "alphabetic", "font": "Liberation Serif", "fontWeight": "bold", "fontSize": 26, "color": "#000"},
 "encoding": {"x": {"datum": 0.5, "type": "quantitative", "scale": {"domain": [0, 1]}}, "y": {"datum": 0.5, "type": "quantitative", "scale": {"domain": [0, 1]}}, "text": {"field": "text"}}
},
{
 "width": 960, "height": 248,
 "data": {"values": [
  {"line": 1, "part": "a", "text": "L’individuazione delle frequenza relativa"},
  {"line": 1, "part": "b", "text": "al"},
  {"line": 1, "part": "c", "text": "primo modo del solaio indagato non è stata"},
  {"line": 2, "part": "a", "text": "immediata perché la struttura risentiva delle vibrazioni"},
  {"line": 2, "part": "c", "text": "delle strutture adiacenti. Allo scopo"},
  {"line": 3, "part": "a", "text": "di estrarre la prima frequenza si è pertanto deciso di"},
  {"line": 3, "part": "c", "text": "eccitare le parti strutturali esterne al"},
  {"line": 4, "part": "a", "text": "solaio mediante forzanti non monitorate"},
  {"line": 4, "part": "b", "text": "e di"},
  {"line": 4, "part": "c", "text": "leggere le risposte accelerometriche. In"},
  {"line": 5, "part": "a", "text": "particolare si è visto che eccitando i due solai"},
  {"line": 5, "part": "c", "text": "adiacenti a quello indagato si enfatizzavano"},
  {"line": 6, "part": "a", "text": "le frequenze pari a 19,5 e 27,3 Hz."},
  {"line": 6, "part": "b", "text": "Queste pertanto"},
  {"line": 6, "part": "c", "text": "sono state escluse nel computo delle"},
  {"line": 7, "part": "a", "text": "frequenze appartenenti al solaio oggetto di studio."},
  {"line": 7, "part": "c", "text": "Anche il picco in corrispondenza della"}
 ]},
 "encoding": {"y": {"field": "line", "type": "quantitative", "scale": {"domain": [0.2486, 7.4162], "reverse": true, "nice": false, "zero": false}}, "text": {"field": "text"}},
 "layer": [
  {"transform": [{"filter": "datum.part === 'a'"}], "mark": {"type": "text", "align": "left", "baseline": "alphabetic", "font": "Liberation Serif", "fontSize": 26, "color": "#000"}, "encoding": {"x": {"datum": 0, "type": "quantitative", "scale": {"domain": [0, 1], "nice": false, "zero": false}}}},
  {"transform": [{"filter": "datum.part === 'b'"}], "mark": {"type": "text", "align": "center", "baseline": "alphabetic", "font": "Liberation Serif", "fontSize": 26, "color": "#000"}, "encoding": {"x": {"datum": 0.5, "type": "quantitative"}}},
  {"transform": [{"filter": "datum.part === 'c'"}], "mark": {"type": "text", "align": "right", "baseline": "alphabetic", "font": "Liberation Serif", "fontSize": 26, "color": "#000"}, "encoding": {"x": {"datum": 1, "type": "quantitative"}}}
 ]
}
]
}
